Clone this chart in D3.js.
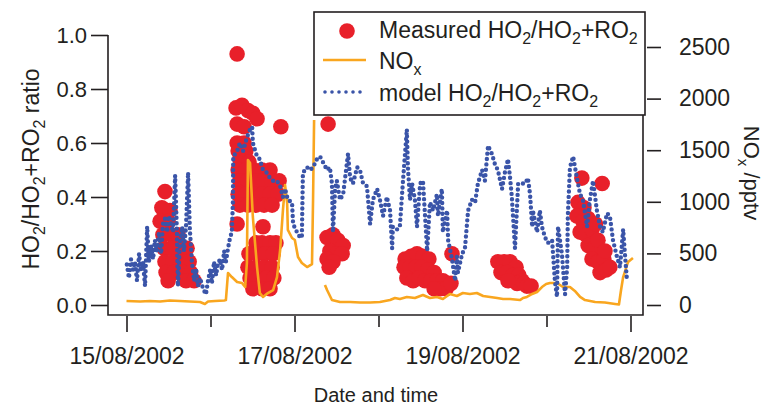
<!DOCTYPE html>
<html>
<head>
<meta charset="utf-8">
<script src="https://cdn.jsdelivr.net/npm/d3@7"></script>
<style>
  html, body { margin: 0; padding: 0; background: #fff; }
  svg text { font-family: "Liberation Sans", Arial, Helvetica, sans-serif; fill: #231f20; }
</style>
</head>
<body>
<svg id="chart" width="766" height="405"></svg>
<script>
// Times are hours after 15/08/2002 00:00
const xTickDays = [15, 16, 17, 18, 19, 20, 21];
const xTickLabels = ["15/08/2002", "", "17/08/2002", "", "19/08/2002", "", "21/08/2002"];
const leftTicks = [0.0, 0.2, 0.4, 0.6, 0.8, 1.0];
const rightTicks = [0, 500, 1000, 1500, 2000, 2500];

// Measured HO2/(HO2+RO2): [hour, ratio]
const measured = [
  // 15/08 afternoon
  [11.0,0.42],[10.1,0.36],[12.4,0.35],[9.6,0.31],[11.9,0.31],
  [10.4,0.26],[12.7,0.26],[14.7,0.26],
  [10.7,0.21],[13.0,0.21],[15.3,0.21],[17.3,0.21],
  [11.0,0.16],[13.3,0.16],[15.6,0.16],[17.9,0.16],
  [11.3,0.12],[13.6,0.12],[16.4,0.12],[18.3,0.12],
  [11.9,0.09],[17.0,0.09],[19.3,0.09],
  // 16/08
  [31.6,0.93],
  [31.3,0.73],[33.0,0.74],[34.7,0.72],[36.1,0.71],[37.3,0.69],[44.1,0.66],
  [31.6,0.67],[33.6,0.66],[31.6,0.60],[33.6,0.60],[31.9,0.57],[34.1,0.57],[32.4,0.54],[35.0,0.53],
  [31.9,0.50],[34.1,0.50],[36.4,0.50],[38.7,0.50],[41.0,0.50],
  [32.4,0.46],[34.7,0.46],[37.0,0.46],[39.3,0.46],[41.6,0.46],[43.6,0.46],
  [31.9,0.41],[34.1,0.41],[36.4,0.41],[38.7,0.41],[41.0,0.41],[43.3,0.41],
  [32.4,0.37],[34.7,0.37],[37.0,0.37],[39.3,0.37],[41.6,0.37],
  [31.6,0.30],[39.0,0.29],
  [37.0,0.23],[38.7,0.23],[41.0,0.23],[42.7,0.23],
  [35.0,0.19],[37.3,0.19],[39.6,0.19],[41.9,0.19],
  [34.7,0.14],[37.0,0.14],[39.3,0.14],[41.6,0.14],
  [35.3,0.10],[37.6,0.10],[39.9,0.10],[42.1,0.10],
  [36.1,0.06],[38.7,0.06],[41.0,0.06],
  // 17/08
  [57.6,0.67],[57.3,0.25],[59.0,0.26],[60.4,0.24],[61.9,0.22],[58.1,0.20],[59.9,0.19],[61.6,0.19],[57.3,0.17],[59.0,0.16],[57.9,0.14],
  // 18/08
  [79.6,0.17],[81.3,0.18],[83.0,0.19],[84.7,0.18],[86.4,0.17],[79.3,0.14],[81.0,0.14],[82.7,0.14],[84.4,0.14],[86.1,0.13],
  [87.9,0.12],[80.1,0.10],[81.9,0.09],[83.6,0.10],[85.3,0.09],[87.0,0.09],[88.7,0.09],[90.4,0.09],[89.6,0.06],[91.3,0.06],
  [87.9,0.06],[92.7,0.08],[93.0,0.19],
  // 19/08
  [106.1,0.16],[107.9,0.16],[109.6,0.16],[111.3,0.14],[107.0,0.12],[108.7,0.12],[110.4,0.11],[112.1,0.11],[113.0,0.09],
  [111.6,0.08],[113.6,0.08],[114.4,0.07],[115.6,0.07],[109.0,0.09],
  // 20/08
  [130.1,0.47],[135.9,0.45],[129.0,0.38],[130.7,0.36],[128.7,0.33],[130.4,0.31],[131.9,0.32],[129.6,0.27],[131.3,0.26],
  [133.0,0.28],[131.9,0.22],[133.6,0.21],[134.7,0.24],[133.0,0.17],[134.7,0.16],[136.4,0.17],[135.3,0.12],[137.0,0.13],
  [138.1,0.14],[136.7,0.20],[134.0,0.30]
];

// NOx (pptv): [hour, value]; null marks a gap
const nox = [
  [0,39],[3.9,34],[6.7,39],[9.6,34],[12.4,44],[15.3,39],[18.1,34],[21.0,29],[22.4,10],[23.3,34],[25.3,39],[27.9,44],
  [28.4,48],[29.0,310],[30.1,271],[31.6,223],[33.0,213],[33.9,174],[34.4,407],[34.7,1405],[35.3,1376],[36.1,853],
  [37.3,368],[38.1,116],[39.0,78],[40.4,116],[41.9,145],[43.0,271],[43.9,533],[44.7,920],[45.3,1163],[45.9,988],
  [46.1,727],[47.3,649],[48.1,630],[49.0,465],[50.1,407],[51.6,368],[53.0,397],[53.3,1017],[53.6,1793],
  [55.0,null],
  [56.7,194],[57.3,145],[58.7,48],[61.0,29],[63.9,29],[66.7,24],[69.6,24],[72.4,29],[75.3,48],[76.7,68],[78.1,58],
  [80.1,78],[82.4,68],[84.7,97],[86.7,68],[88.7,78],[90.4,58],[92.4,107],[94.4,87],[96.1,116],[98.1,107],[100.1,116],
  [101.9,87],[103.9,78],[105.9,68],[107.6,58],[109.6,58],[112.4,48],[113.3,68],[114.4,78],[115.9,107],[117.3,126],
  [118.7,174],[119.9,203],[121.0,213],[123.0,213],[124.7,174],[126.7,174],[128.1,136],[129.6,78],[131.0,48],[133.9,29],
  [136.7,24],[139.6,10],[140.7,5],[141.3,145],[141.9,271],[143.3,417],[144.7,455]
];

// Model HO2/(HO2+RO2): [hour, ratio]
const model = [
  [0.1,0.15],[0.7,0.10],[1.3,0.17],[1.9,0.13],[2.4,0.16],[3.0,0.09],[3.6,0.19],[4.1,0.13],[4.7,0.16],[5.3,0.07],
  [5.9,0.29],[6.4,0.16],[7.0,0.22],[7.6,0.17],[8.1,0.24],[8.7,0.20],[9.3,0.27],[9.9,0.19],[10.4,0.30],[11.0,0.32],
  [11.6,0.27],[12.1,0.33],[12.7,0.30],[13.3,0.27],[13.9,0.48],[14.4,0.27],[14.7,0.07],[15.3,0.24],[15.9,0.29],[16.4,0.20],
  [17.0,0.29],[17.6,0.49],[18.1,0.28],[18.7,0.16],[19.3,0.09],[19.9,0.13],[20.4,0.07],[21.0,0.10],[21.9,0.06],[22.7,0.04],
  [23.3,0.09],[23.9,0.13],[24.4,0.08],[25.0,0.16],[25.6,0.11],[26.1,0.15],[26.7,0.17],[27.3,0.13],[27.9,0.20],[28.4,0.16],
  [29.0,0.21],[29.6,0.25],[30.1,0.27],
  [30.4,0.38],[30.5,0.55],[31.6,0.57],[32.4,0.60],[33.3,0.57],[34.4,0.62],[35.3,0.65],[35.9,0.66],[36.1,0.60],[37.3,0.55],
  [38.1,0.54],[39.0,0.50],[40.1,0.49],[41.0,0.47],[41.9,0.46],[43.0,0.46],[43.9,0.44],[44.7,0.40],[45.3,0.43],[46.1,0.39],
  [47.3,0.38],[47.6,0.30],[48.7,0.27],[49.6,0.25],[50.1,0.25],
  [50.4,0.49],[51.6,0.51],[52.4,0.50],[53.3,0.51],[54.4,0.54],[55.3,0.55],[56.1,0.53],[57.3,0.50],[58.1,0.51],[58.7,0.45],
  [59.0,0.27],[59.6,0.43],[60.1,0.46],[61.0,0.39],[61.9,0.41],[63.3,0.56],[63.9,0.47],[64.7,0.45],[65.9,0.51],[66.7,0.50],
  [67.6,0.45],[68.7,0.44],[69.6,0.30],[70.4,0.39],[71.6,0.43],[72.4,0.39],[73.3,0.33],[74.4,0.40],[75.3,0.35],[75.9,0.21],
  [76.1,0.29],[77.3,0.28],[78.1,0.29],[79.0,0.46],[80.1,0.65],[80.4,0.51],[81.0,0.39],[81.6,0.45],[82.4,0.39],[83.0,0.29],
  [83.9,0.45],[84.7,0.46],[85.3,0.33],[85.9,0.20],[86.7,0.38],[87.6,0.35],[88.7,0.41],[89.0,0.33],[90.1,0.43],[90.4,0.27],
  [91.6,0.35],[91.9,0.24],[93.0,0.17],[93.9,0.09],[94.4,0.18],[94.7,0.12],[95.9,0.19],[96.7,0.21],[97.6,0.35],[98.7,0.39],
  [99.6,0.38],[100.4,0.45],[101.6,0.50],[102.4,0.46],[103.3,0.59],[104.4,0.56],[105.3,0.52],[106.1,0.50],[107.3,0.43],
  [108.1,0.49],[109.0,0.54],[109.6,0.47],[110.1,0.40],[111.0,0.21],[111.9,0.45],[113.0,0.45],[113.9,0.45],[114.7,0.47],
  [115.3,0.41],[115.9,0.29],[116.1,0.35],[117.3,0.27],[118.1,0.35],[118.7,0.29],[119.6,0.25],[120.4,0.23],[121.6,0.24],
  [122.4,0.09],[123.0,0.03],[123.3,0.29],[124.4,0.19],[125.3,0.04],[125.9,0.14],[126.1,0.33],[126.7,0.51],[127.6,0.55],
  [128.7,0.47],[129.6,0.41],[130.4,0.39],[131.6,0.29],[132.4,0.39],[133.3,0.46],[134.4,0.35],[135.3,0.29],[136.1,0.27],
  [137.3,0.34],[138.1,0.33],[139.0,0.24],[140.1,0.18],[141.0,0.14],[141.9,0.28],[142.4,0.19],[143.0,0.09]
];

const RED = "#e8202a", ORANGE = "#f9a61f", BLUE = "#3a54a8", INK = "#231f20";

const svg = d3.select("#chart");
const base = new Date(2002, 7, 15);
const toDate = h => new Date(base.getTime() + h * 3600000);

const x = d3.scaleTime().domain([new Date(2002, 7, 15), new Date(2002, 7, 21)]).range([126.5, 630.5]);
const yL = d3.scaleLinear().domain([0, 1]).range([305, 35]);
const yR = d3.scaleLinear().domain([0, 2500]).range([305, 47]);

const L = 108, R = 643, B = 315, T = 35;

// measured points
svg.append("g").selectAll("circle").data(measured).join("circle")
  .attr("cx", d => x(toDate(d[0]))).attr("cy", d => yL(d[1])).attr("r", 7.8)
  .attr("fill", RED);

// NOx line
svg.append("path").datum(nox)
  .attr("d", d3.line().defined(d => d[1] != null).x(d => x(toDate(d[0]))).y(d => yR(d[1])))
  .attr("fill", "none").attr("stroke", ORANGE).attr("stroke-width", 2.6).attr("stroke-linejoin", "round");

// model dotted line
svg.append("path").datum(model)
  .attr("d", d3.line().x(d => x(toDate(d[0]))).y(d => yL(d[1])))
  .attr("fill", "none").attr("stroke", BLUE).attr("stroke-width", 4.4)
  .attr("stroke-linecap", "round").attr("stroke-dasharray", "0 5.4");

// frame
const frame = svg.append("g").attr("stroke", INK).attr("stroke-width", 1.6).attr("fill", "none");
frame.append("path").attr("d", `M${L},${T}V${B}H${R}V${T}`);

// left axis
const gL = svg.append("g").attr("transform", `translate(${L},0)`)
  .call(d3.axisLeft(yL).tickValues(leftTicks).tickSize(17).tickPadding(4).tickFormat(d3.format(".1f")));
gL.select(".domain").remove();
gL.selectAll("line").attr("stroke", INK).attr("stroke-width", 1.6);
gL.selectAll("text").attr("font-size", 22).attr("font-family", null).attr("fill", INK);

// right axis
const gR = svg.append("g").attr("transform", `translate(${R + 4},0)`)
  .call(d3.axisRight(yR).tickValues(rightTicks).tickSize(14).tickPadding(18).tickFormat(d3.format("d")));
gR.select(".domain").remove();
gR.selectAll("line").attr("stroke", INK).attr("stroke-width", 1.6);
gR.selectAll("text").attr("font-size", 23).attr("font-family", null).attr("fill", INK);

// bottom axis
const xTicks = xTickDays.map(d => new Date(2002, 7, d));
const gB = svg.append("g").attr("transform", `translate(0,${B + 1})`)
  .call(d3.axisBottom(x).tickValues(xTicks).tickSize(16).tickPadding(16)
    .tickFormat((d, i) => xTickLabels[i]));
gB.select(".domain").remove();
gB.selectAll("line").attr("stroke", INK).attr("stroke-width", 1.6)
  .attr("y2", (d, i) => xTickLabels[i] ? 16 : 11);
gB.selectAll("text").attr("font-size", 23).attr("font-family", null).attr("fill", INK);

// helper for text with subscripts: parts = [[text, isSub], ...]
function richText(sel, parts, size) {
  const subSize = Math.round(size * 0.68), shift = size * 0.28;
  let down = false;
  parts.forEach(([t, sub]) => {
    const ts = sel.append("tspan").text(t);
    if (sub) { ts.attr("font-size", subSize).attr("dy", shift); down = true; }
    else if (down) { ts.attr("dy", -shift); down = false; }
  });
}

// axis titles
const tl = svg.append("text").attr("transform", "translate(39,169) rotate(-90)")
  .attr("text-anchor", "middle").attr("font-size", 23);
richText(tl, [["HO"],["2",1],["/HO"],["2",1],["+RO"],["2",1],[" ratio"]], 23);

const tr = svg.append("text").attr("transform", "translate(744,173) rotate(90)")
  .attr("text-anchor", "middle").attr("font-size", 22);
richText(tr, [["NO"],["x",1],[" /pptv"]], 22);

svg.append("text").attr("x", 376).attr("y", 402).attr("text-anchor", "middle")
  .attr("font-size", 20).text("Date and time");

// legend
const lg = svg.append("g");
lg.append("rect").attr("x", 314).attr("y", 12).attr("width", 331).attr("height", 103)
  .attr("fill", "#fff").attr("stroke", INK).attr("stroke-width", 1.6);
lg.append("circle").attr("cx", 347).attr("cy", 31).attr("r", 7.8).attr("fill", RED);
lg.append("line").attr("x1", 323).attr("x2", 366).attr("y1", 60).attr("y2", 60)
  .attr("stroke", ORANGE).attr("stroke-width", 2.6);
lg.append("line").attr("x1", 325).attr("x2", 366).attr("y1", 92).attr("y2", 92)
  .attr("stroke", BLUE).attr("stroke-width", 3.6).attr("stroke-linecap", "round")
  .attr("stroke-dasharray", "0 7");
const lt1 = lg.append("text").attr("x", 379).attr("y", 38).attr("font-size", 23);
richText(lt1, [["Measured HO"],["2",1],["/HO"],["2",1],["+RO"],["2",1]], 23);
const lt2 = lg.append("text").attr("x", 379).attr("y", 69).attr("font-size", 23);
richText(lt2, [["NO"],["x",1]], 23);
const lt3 = lg.append("text").attr("x", 379).attr("y", 101).attr("font-size", 23);
richText(lt3, [["model HO"],["2",1],["/HO"],["2",1],["+RO"],["2",1]], 23);
</script>
</body>
</html>
